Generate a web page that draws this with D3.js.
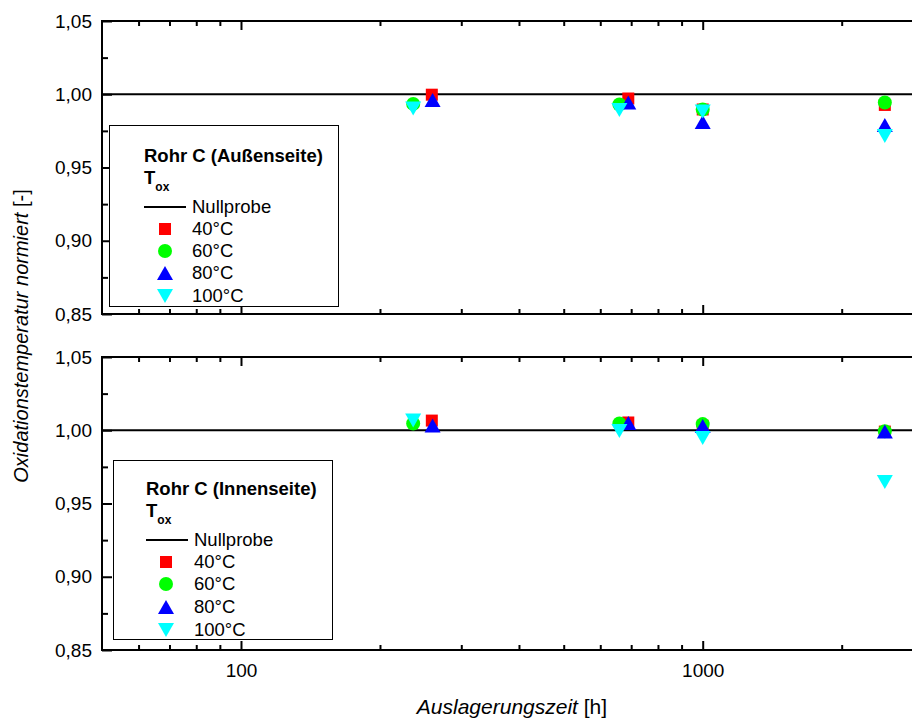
<!DOCTYPE html>
<html><head><meta charset="utf-8">
<script src="https://cdn.jsdelivr.net/npm/d3@7"></script>
<style>
html,body{margin:0;padding:0;background:#fff;}
svg{display:block;font-family:"Liberation Sans",Arial,sans-serif;}
</style></head>
<body>
<svg id="chart" width="912" height="720"></svg>
<script>
// ---- data ----
const seriesLabels = ["40°C", "60°C", "80°C", "100°C"];
const times40  = [259, 690, 1000, 2480];
const times60  = [236, 660, 1000, 2480];
const times80  = [260, 690, 1000, 2480];
const times100 = [236, 660, 1000, 2480];

const outer40  = [0.9997, 0.9971, 0.9896, 0.9927];
const outer60  = [0.9934, 0.9930, 0.9896, 0.9944];
const outer80  = [0.9961, 0.9944, 0.9811, 0.9790];
const outer100 = [0.9903, 0.9893, 0.9883, 0.9715];

const inner40  = [1.0066, 1.0053, 1.0030, 0.9991];
const inner60  = [1.0046, 1.0046, 1.0042, 0.9993];
const inner80  = [1.0032, 1.0049, 1.0029, 0.9991];
const inner100 = [1.0066, 0.9995, 0.9947, 0.9646];

const nullValue = 1.00;
const yMajorTicks = [0.85, 0.90, 0.95, 1.00, 1.05];
const yMinorTicks = [0.875, 0.925, 0.975, 1.025];
const xMajorTicks = [100, 1000];
const xMinorTicks = [60, 70, 80, 90, 200, 300, 400, 500, 600, 700, 800, 900, 2000];
const panelTitles = ["Rohr C (Außenseite)", "Rohr C (Innenseite)"];

// ---- setup ----
const svg = d3.select("#chart");
const W = 912;
const x = d3.scaleLog().domain([50, 3000]).range([102, 923]);
const colors = ["#ff0000", "#00ff00", "#0000ff", "#00ffff"];
const shapes = ["square", "circle", "up", "down"];
const fmt = v => d3.format(".2f")(v).replace(".", ",");

function markerPath(shape) {
  if (shape === "square") return "M-6,-6H6V6H-6Z";
  if (shape === "circle") return "M7,0A7,7 0 1,1 -7,0A7,7 0 1,1 7,0Z";
  if (shape === "up") return "M0,-7L8,7L-8,7Z";
  return "M0,7L8,-7L-8,-7Z";
}

const panels = [
  {top: 21, bottom: 314, series: [outer40, outer60, outer80, outer100],
   legend: {x: 109, y: 125, w: 229, h: 181, tx: 144, ty: 162, mx: 165, rowY: [207, 229, 251, 273, 296]}},
  {top: 357, bottom: 650, series: [inner40, inner60, inner80, inner100],
   legend: {x: 113, y: 460, w: 219, h: 179, tx: 146, ty: 495, mx: 166, rowY: [540, 562, 584, 607, 630]}}
];
const timesAll = [times40, times60, times80, times100];

panels.forEach((p, pi) => {
  const y = d3.scaleLinear().domain([0.85, 1.05]).range([p.bottom, p.top]);
  const g = svg.append("g");

  // y axis majors (inward)
  const ya = g.append("g").attr("transform", `translate(${x.range()[0]},0)`)
    .call(d3.axisLeft(y).tickValues(yMajorTicks).tickSize(-10).tickPadding(10).tickFormat(fmt));
  ya.select(".domain").remove();
  ya.selectAll("line").attr("stroke", "#000").attr("stroke-width", 2);
  ya.selectAll("text").attr("font-size", 19).attr("fill", "#000").attr("font-family", "Liberation Sans, Arial, sans-serif");
  const ym = g.append("g").attr("transform", `translate(${x.range()[0]},0)`)
    .call(d3.axisLeft(y).tickValues(yMinorTicks).tickSize(-6).tickFormat(""));
  ym.select(".domain").remove();
  ym.selectAll("line").attr("stroke", "#000").attr("stroke-width", 2);

  // x axis bottom
  const xb = g.append("g").attr("transform", `translate(0,${p.bottom})`)
    .call(d3.axisBottom(x).tickValues(xMajorTicks).tickSize(-9).tickPadding(14).tickFormat(d3.format("d")));
  xb.select(".domain").remove();
  xb.selectAll("line").attr("stroke", "#000").attr("stroke-width", 2);
  if (pi === 1) {
    xb.selectAll("text").attr("font-size", 19).attr("fill", "#000").attr("font-family", "Liberation Sans, Arial, sans-serif");
  } else {
    xb.selectAll("text").remove();
  }
  const xbm = g.append("g").attr("transform", `translate(0,${p.bottom})`)
    .call(d3.axisBottom(x).tickValues(xMinorTicks).tickSize(-5).tickFormat(""));
  xbm.select(".domain").remove();
  xbm.selectAll("line").attr("stroke", "#000").attr("stroke-width", 2);

  // x axis top (mirrored ticks)
  const xt = g.append("g").attr("transform", `translate(0,${p.top})`)
    .call(d3.axisTop(x).tickValues(xMajorTicks).tickSize(-9).tickFormat(""));
  xt.select(".domain").remove();
  xt.selectAll("line").attr("stroke", "#000").attr("stroke-width", 2);
  const xtm = g.append("g").attr("transform", `translate(0,${p.top})`)
    .call(d3.axisTop(x).tickValues(xMinorTicks).tickSize(-5).tickFormat(""));
  xtm.select(".domain").remove();
  xtm.selectAll("line").attr("stroke", "#000").attr("stroke-width", 2);

  // frame lines
  const x0 = x.range()[0];
  g.append("line").attr("x1", x0).attr("x2", W).attr("y1", p.bottom).attr("y2", p.bottom)
    .attr("stroke", "#000").attr("stroke-width", 2);
  g.append("line").attr("x1", x0).attr("x2", W).attr("y1", p.top).attr("y2", p.top)
    .attr("stroke", "#000").attr("stroke-width", 2);
  g.append("line").attr("x1", x0).attr("x2", x0).attr("y1", p.top - 1).attr("y2", p.bottom + 1)
    .attr("stroke", "#000").attr("stroke-width", 2);

  // Nullprobe line
  g.append("line").attr("x1", x0).attr("x2", W).attr("y1", y(nullValue)).attr("y2", y(nullValue))
    .attr("stroke", "#000").attr("stroke-width", 2);

  // markers
  p.series.forEach((vals, si) => {
    g.append("g").selectAll("path").data(vals).join("path")
      .attr("d", markerPath(shapes[si]))
      .attr("transform", (v, i) => `translate(${x(timesAll[si][i])},${y(v)})`)
      .attr("fill", colors[si]);
  });

  // legend
  const L = p.legend;
  const lg = svg.append("g");
  lg.append("rect").attr("x", L.x + 0.5).attr("y", L.y + 0.5).attr("width", L.w).attr("height", L.h)
    .attr("fill", "#fff").attr("stroke", "#000").attr("stroke-width", 1);
  lg.append("text").attr("x", L.tx).attr("y", L.ty).attr("font-size", 18.5).attr("font-weight", "bold")
    .text(panelTitles[pi]);
  const tox = lg.append("text").attr("x", L.tx).attr("y", L.ty + 22).attr("font-size", 18.5).attr("font-weight", "bold");
  tox.append("tspan").text("T");
  tox.append("tspan").attr("font-size", 12).attr("dy", 7).text("ox");
  lg.append("line").attr("x1", L.tx).attr("x2", L.tx + 42).attr("y1", L.rowY[0]).attr("y2", L.rowY[0])
    .attr("stroke", "#000").attr("stroke-width", 2);
  lg.append("text").attr("x", L.tx + 48).attr("y", L.rowY[0]).attr("dy", "0.35em").attr("font-size", 18.5).text("Nullprobe");
  seriesLabels.forEach((lab, si) => {
    const ry = L.rowY[si + 1];
    lg.append("path").attr("d", markerPath(shapes[si])).attr("transform", `translate(${L.mx},${ry})`).attr("fill", colors[si]);
    lg.append("text").attr("x", L.tx + 48).attr("y", ry).attr("dy", "0.35em").attr("font-size", 18.5).text(lab);
  });
});

// axis titles
const xl = svg.append("text").attr("x", 512).attr("y", 714).attr("text-anchor", "middle").attr("font-size", 21);
xl.append("tspan").attr("font-style", "italic").text("Auslagerungszeit");
xl.append("tspan").text(" [h]");
const yl = svg.append("text").attr("transform", "translate(28,336) rotate(-90)").attr("text-anchor", "middle").attr("font-size", 20);
yl.append("tspan").attr("font-style", "italic").text("Oxidationstemperatur normiert");
yl.append("tspan").text(" [-]");
</script>
</body></html>
